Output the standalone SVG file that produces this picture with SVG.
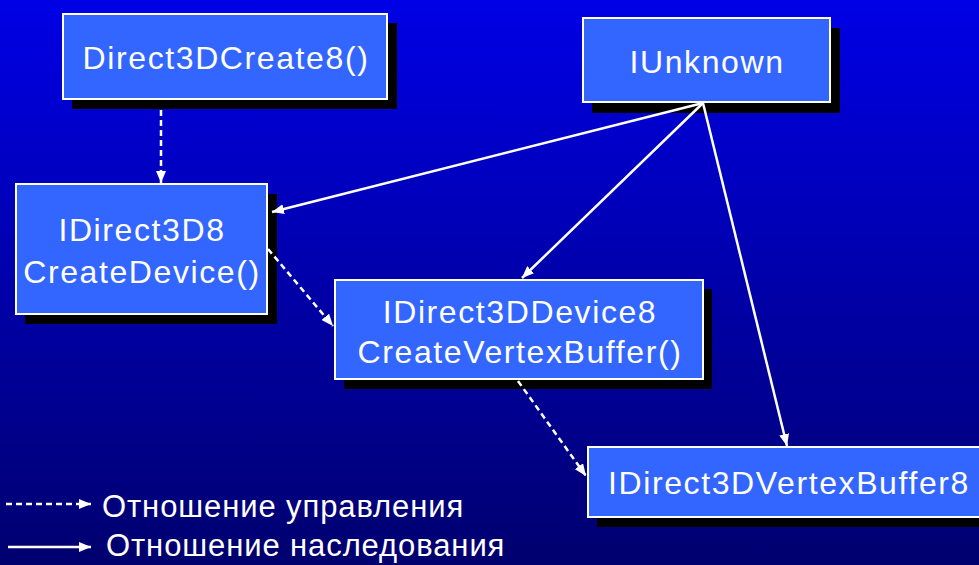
<svg xmlns="http://www.w3.org/2000/svg" width="979" height="565" viewBox="0 0 979 565">
<defs>
<linearGradient id="bg" x1="0" y1="0" x2="0" y2="1">
<stop offset="0" stop-color="#0000E6"/>
<stop offset="1" stop-color="#00006E"/>
</linearGradient>
<marker id="ah" viewBox="0 0 12 10" refX="12" refY="5" markerWidth="12" markerHeight="10" markerUnits="userSpaceOnUse" orient="auto">
<path d="M0,0 L12,5 L0,10 Z" fill="#fff"/>
</marker>
<style>
.shadow{fill:#000}
.box{fill:#3366FF;stroke:#fff;stroke-width:2}
.t{font-family:"Liberation Sans",Arial,sans-serif;font-size:32px;fill:#fff;text-anchor:middle;letter-spacing:1.6px}
.lg{font-family:"Liberation Sans",Arial,sans-serif;font-size:31px;fill:#fff;letter-spacing:0.9px}
.solid{stroke:#fff;stroke-width:2.5;fill:none;marker-end:url(#ah)}
.dash{stroke:#fff;stroke-width:2.5;fill:none;stroke-dasharray:6,4;marker-end:url(#ah)}
</style>
</defs>
<rect width="979" height="565" fill="url(#bg)"/>

<g id="node-direct3dcreate8">
<rect class="shadow" x="72" y="23" width="325" height="86"/>
<rect class="box" x="63" y="14" width="324" height="85"/>
<text class="t" x="226" y="69">Direct3DCreate8()</text>
</g>

<g id="node-iunknown">
<rect class="shadow" x="592" y="28" width="248" height="85"/>
<rect class="box" x="583" y="18" width="247" height="84"/>
<text class="t" x="707" y="73">IUnknown</text>
</g>

<g id="node-idirect3d8">
<rect class="shadow" x="25" y="194" width="252" height="130"/>
<rect class="box" x="16" y="184" width="251" height="130"/>
<text class="t" x="142" y="241">IDirect3D8</text>
<text class="t" x="142" y="283">CreateDevice()</text>
</g>

<g id="node-idirect3ddevice8">
<rect class="shadow" x="344" y="289" width="368" height="100"/>
<rect class="box" x="335" y="280" width="368" height="99"/>
<text class="t" x="520" y="323">IDirect3DDevice8</text>
<text class="t" x="520" y="363">CreateVertexBuffer()</text>
</g>

<g id="node-idirect3dvertexbuffer8">
<rect class="shadow" x="597" y="457" width="392" height="70"/>
<rect class="box" x="588" y="447" width="400" height="70"/>
<text class="t" x="789" y="494">IDirect3DVertexBuffer8</text>
</g>

<g id="connectors">
<line class="dash" x1="161" y1="110" x2="161" y2="183"/>
<line class="solid" x1="703" y1="103" x2="272" y2="212"/>
<line class="solid" x1="703" y1="103" x2="522" y2="278"/>
<line class="solid" x1="703" y1="103" x2="787" y2="446"/>
<line class="dash" x1="268" y1="249" x2="333" y2="326"/>
<line class="dash" x1="518" y1="381" x2="586" y2="476"/>
</g>

<g id="legend">
<line class="dash" x1="6" y1="504" x2="91" y2="504"/>
<text class="lg" x="102" y="517">Отношение управления</text>
<line class="solid" x1="8" y1="547" x2="91" y2="547"/>
<text class="lg" x="106" y="556">Отношение наследования</text>
</g>
</svg>
